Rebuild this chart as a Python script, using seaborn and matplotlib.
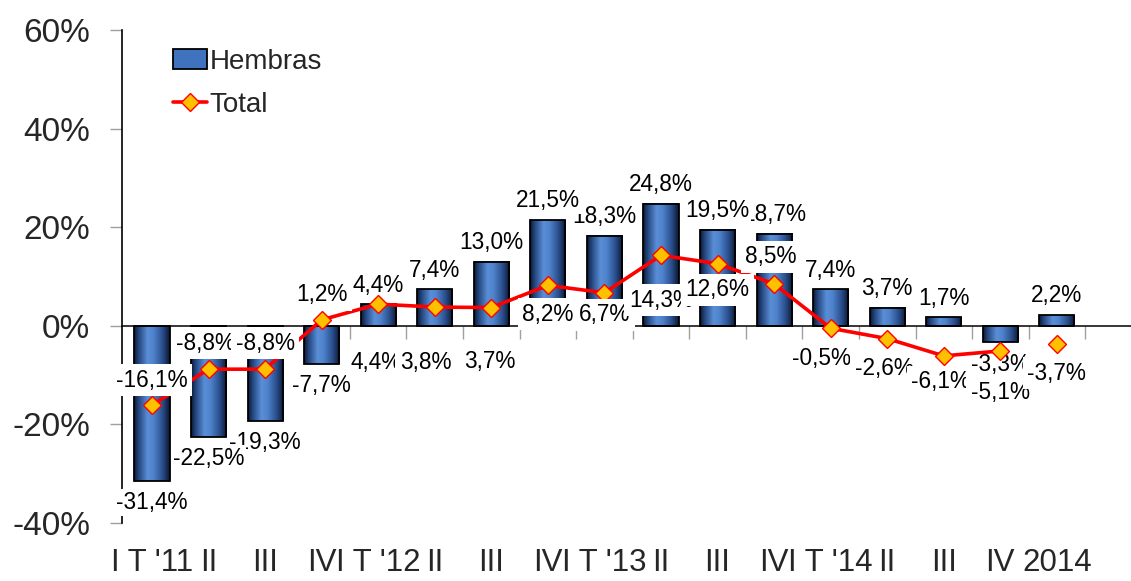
import numpy as np
import pandas as pd
import matplotlib
matplotlib.use("Agg")
import matplotlib.pyplot as plt
import seaborn as sns
from matplotlib import font_manager
from matplotlib.colors import LinearSegmentedColormap
from matplotlib.patches import Patch
from matplotlib.lines import Line2D
from matplotlib.ticker import FuncFormatter

# ---------------- data ----------------
categories = ["I T '11", "II", "III", "IV", "I T '12", "II", "III", "IV",
              "I T '13", "II", "III", "IV", "I T '14", "II", "III", "IV", "2014"]
hembras = [-31.4, -22.5, -19.3, -7.7, 4.4, 7.4, 13.0, 21.5, 18.3, 24.8,
           19.5, 18.7, 7.4, 3.7, 1.7, -3.3, 2.2]
total = [-16.1, -8.8, -8.8, 1.2, 4.4, 3.8, 3.7, 8.2, 6.7, 14.3,
         12.6, 8.5, -0.5, -2.6, -6.1, -5.1, -3.7]
yticks = [-40, -20, 0, 20, 40, 60]

# label placement (pixels; positive dy = downwards)
line_label_dx = [0, -3, 0, 0, -2, -9, -2, 0, 0, 0, 0, -3, -9, -3, -3, 0, 0]
line_label_dy = [-25, -26, -26, -25, 58, 55, 54, 29, 22, 45, 26, -27, 30, 30, 26, 42, 29]

sns.set_theme(style="white")
names = {f.name for f in font_manager.fontManager.ttflist}
base = 'Liberation Sans' if 'Liberation Sans' in names else 'DejaVu Sans'
narrow = 'Liberation Sans Narrow' if 'Liberation Sans Narrow' in names else base
plt.rcParams['font.family'] = [base, 'DejaVu Sans']

PX = 0.72  # points per pixel at dpi 100

fig = plt.figure(figsize=(11.31, 5.81), dpi=100)
ax = fig.add_axes([122 / 1131, 1 - 523 / 581, (1131 - 122) / 1131, 493 / 581])

df = pd.DataFrame({"pos": np.arange(len(categories)), "Hembras": hembras, "Total": total})

sns.barplot(data=df, x="pos", y="Hembras", width=0.62, ax=ax, color="#3f73bd",
            edgecolor="black", linewidth=1.3, zorder=2)
bars = list(ax.patches)

cmap = LinearSegmentedColormap.from_list(
    "cyl", [(0, "#0b1730"), (0.12, "#22437a"), (0.38, "#5a8fd8"),
            (0.55, "#4e82cb"), (0.8, "#294d8a"), (1, "#0a162e")])
grad = np.linspace(0, 1, 256).reshape(1, -1)
for p in bars:
    x0, y0 = p.get_x(), p.get_y()
    w, h = p.get_width(), p.get_height()
    ax.imshow(grad, extent=[x0, x0 + w, min(y0, y0 + h), max(y0, y0 + h)],
              aspect="auto", cmap=cmap, zorder=2, interpolation="bicubic")
    p.set_facecolor("none")
    p.set_zorder(2.1)

quarterly = df.iloc[:16]
annual = df.iloc[16:]
sns.lineplot(data=quarterly, x="pos", y="Total", ax=ax, color="red", linewidth=2.6,
             marker="D", markersize=9, markerfacecolor="#ffc000",
             markeredgecolor="red", markeredgewidth=1.0, zorder=3)
ax.plot(annual["pos"], annual["Total"], ls="none", marker="D", markersize=9,
        markerfacecolor="#ffc000", markeredgecolor="red", markeredgewidth=1.0, zorder=3)


def fmt(v):
    return f"{v:.1f}".replace(".", ",") + "%"


bar_box = dict(boxstyle="square,pad=0.08", fc="white", ec="none")
box = dict(boxstyle="square,pad=0.2", fc="white", ec="none")
# bar labels: earlier ones sit on top of later ones
for i in reversed(range(len(hembras))):
    v = hembras[i]
    dy = 19 if v >= 0 else -22
    ax.annotate(fmt(v), (i, v), xytext=(0, dy * PX), textcoords="offset points",
                ha="center", va="center", fontsize=16.3, color="black", bbox=bar_box, zorder=2.8)
for i, v in enumerate(total):
    ax.annotate(fmt(v), (i, v), xytext=(line_label_dx[i] * PX, -line_label_dy[i] * PX),
                textcoords="offset points", ha="center", va="center", fontsize=16.3,
                color="black", bbox=box, zorder=5)

ax.set_ylim(-40, 60)
ax.set_xlim(-0.53, 17.31)
ax.set_yticks(yticks)
ax.yaxis.set_major_formatter(FuncFormatter(lambda v, _: f"{int(v)}%"))
ax.tick_params(axis="y", which="major", length=9, width=1, color="#a0a0a0",
               labelsize=24, pad=14, left=True, direction="out")
ax.set_xticks(range(len(categories)))
ax.set_xticklabels(categories, fontsize=22.5, family=[narrow, base])
ax.tick_params(axis="x", length=0, pad=18)
ax.set_xlabel("")
ax.set_ylabel("")
for s in ["top", "right", "bottom"]:
    ax.spines[s].set_visible(False)
ax.spines["left"].set_color("black")
ax.spines["left"].set_linewidth(1.2)

# zero axis with category-boundary ticks
sec = ax.secondary_xaxis(0.4)
sec.set_xticks(np.arange(0.5, 17, 1.0), labels=[""] * 17)
sec.tick_params(length=9, width=1, color="#a0a0a0", direction="out")
for s in sec.spines.values():
    s.set_visible(False)
sec.spines["bottom"].set_visible(True)
sec.spines["bottom"].set_color("black")
sec.spines["bottom"].set_linewidth(1.1)
sec.patch.set_visible(False)
sec.set_zorder(2.5)

handles = [Patch(facecolor="#3f73bd", edgecolor="black", linewidth=1.3),
           Line2D([0], [0], color="red", lw=2.6, marker="D", markersize=9,
                  markerfacecolor="#ffc000", markeredgecolor="red")]
ax.legend(handles, ["Hembras", "Total"], loc="upper left", bbox_to_anchor=(0.04, 0.985),
          frameon=False, fontsize=20, handlelength=1.2, handletextpad=0.1,
          labelspacing=0.62, borderaxespad=0)

fig.savefig("out.png", dpi=100)
